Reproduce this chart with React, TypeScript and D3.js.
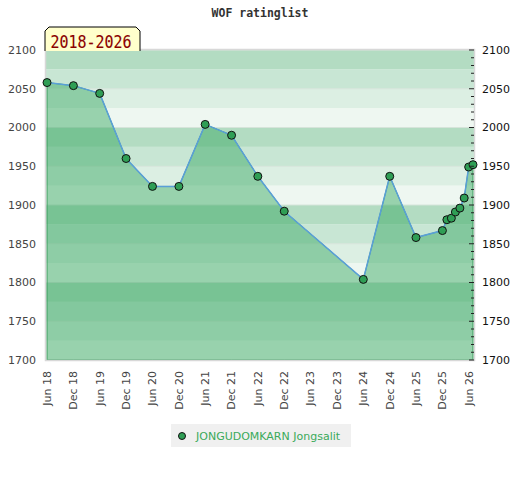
import * as d3 from 'd3';

const title = 'WOF ratinglist';
const periodLabel = '2018-2026';
const playerName = 'JONGUDOMKARN Jongsalit';

// rating list months (year, month 1-12) and ratings
const listDates: [number, number][] = [
  [2018, 6], [2018, 12], [2019, 6], [2019, 12], [2020, 6], [2020, 12],
  [2021, 6], [2021, 12], [2022, 6], [2022, 12], [2024, 6], [2024, 12],
  [2025, 6], [2025, 12], [2026, 1], [2026, 2], [2026, 3], [2026, 4],
  [2026, 5], [2026, 6], [2026, 7],
];
const ratings = [
  2058, 2054, 2044, 1960, 1924, 1924, 2004, 1990, 1937, 1892, 1804, 1937,
  1858, 1867, 1881, 1883, 1891, 1896, 1909, 1949, 1952,
];

const yDomain = [1700, 2100];
const yTickValues = [1700, 1750, 1800, 1850, 1900, 1950, 2000, 2050, 2100];
const bandColors = ['#b3dcc2', '#c8e6d4', '#dcefe3', '#eef7f1'];

interface Point {
  date: Date;
  rating: number;
}

const points: Point[] = listDates.map(([yr, m], i) => ({
  date: new Date(yr, m - 1, 1),
  rating: ratings[i],
}));

export default function App() {
  const width = 520;
  const height = 480;
  const plot = { left: 46, right: 474, top: 50, bottom: 360 };

  const x = d3.scaleTime()
    .domain([points[0].date, points[points.length - 1].date])
    .range([plot.left + 1, plot.right - 1]);

  const y = d3.scaleLinear()
    .domain(yDomain)
    .range([plot.bottom, plot.top]);

  // half-year ticks: Jun and Dec
  const xTicks = d3.timeMonth
    .range(new Date(2018, 5, 1), new Date(2026, 6, 1))
    .filter(d => d.getMonth() === 5 || d.getMonth() === 11);
  const fmt = d3.timeFormat('%b %y');

  // 25-point bands, darkest at the top of each 100 block
  const bands = d3.range(yDomain[0], yDomain[1], 25).map(v => ({
    lo: v,
    hi: v + 25,
    color: bandColors[3 - ((v - yDomain[0]) / 25) % 4],
  }));

  const minorTicks = d3.range(yDomain[0], yDomain[1] + 1, 10);

  const area = d3.area<Point>()
    .x(d => x(d.date))
    .y0(y(yDomain[0]))
    .y1(d => y(d.rating));

  const line = d3.line<Point>()
    .x(d => x(d.date))
    .y(d => y(d.rating));

  return (
    <svg width={width} height={height} style={{ position: 'absolute', left: 0, top: 0 }}
      fontFamily="DejaVu Sans">
      <rect width={width} height={height} fill="#fff" />

      <text x={260} y={17} textAnchor="middle" fontFamily="DejaVu Sans Mono" fontWeight="bold"
        fontSize={11.5} fill="#333">{title}</text>

      {/* background bands */}
      {bands.map(b => (
        <rect key={b.lo} x={plot.left} width={plot.right - plot.left}
          y={y(b.hi)} height={y(b.lo) - y(b.hi)} fill={b.color} />
      ))}
      {yTickValues.map(v => (
        <line key={v} x1={plot.left} x2={plot.right} y1={y(v)} y2={y(v)}
          stroke="#d6e4da" strokeWidth={1} />
      ))}

      {/* rating area */}
      <path d={area(points)!} fill="rgb(51,166,93)" fillOpacity={0.46}
        stroke="#3a9d5d" strokeWidth={1} />
      <path d={line(points)!} fill="none" stroke="#5a9fd8" strokeWidth={1.5} />

      <rect x={plot.left - 0.5} y={plot.top - 0.5} width={plot.right - plot.left + 1}
        height={plot.bottom - plot.top + 1} fill="none" stroke="#d8d8d8" strokeWidth={1.5} />

      {points.map((d, i) => (
        <circle key={i} cx={x(d.date)} cy={y(d.rating)} r={4}
          fill="#2f9e55" stroke="#111" strokeWidth={1} />
      ))}

      {/* right axis ticks */}
      {minorTicks.map(v => (
        <line key={v} x1={plot.right - (v % 50 === 0 ? 5 : 3)} x2={plot.right}
          y1={y(v)} y2={y(v)} stroke="#222" strokeWidth={1} />
      ))}

      {/* y labels */}
      {yTickValues.map(v => (
        <g key={v}>
          <text x={36} y={y(v)} dy="0.35em" textAnchor="end" fontSize={11} fill="#444">{v}</text>
          <text x={482} y={y(v)} dy="0.35em" textAnchor="start" fontSize={11} fill="#111">{v}</text>
        </g>
      ))}

      {/* x labels */}
      {xTicks.map(t => (
        <text key={t.getTime()} transform={`translate(${x(t)},371) rotate(-90)`}
          dy="0.35em" textAnchor="end" fontSize={11} fill="#444">{fmt(t)}</text>
      ))}

      {/* period box */}
      <path d="M45,51 V31 L49,27 H136 L140,31 V51" fill="#ffffcc" stroke="#000" strokeWidth={1} />
      <text transform="translate(91,48.3) scale(1,1.2)" textAnchor="middle"
        fontFamily="DejaVu Sans Mono" fontSize={15} fill="#8b0000"
        stroke="#8b0000" strokeWidth={0.1}>{periodLabel}</text>

      {/* legend */}
      <rect x={171} y={424} width={180} height={23} fill="#f0f0f0" />
      <circle cx={182} cy={436} r={3.5} fill="#2f9e55" stroke="#111" strokeWidth={1} />
      <text x={196} y={436} dy="0.35em" fontSize={11} fill="#3aaa5a">{playerName}</text>
    </svg>
  );
}
